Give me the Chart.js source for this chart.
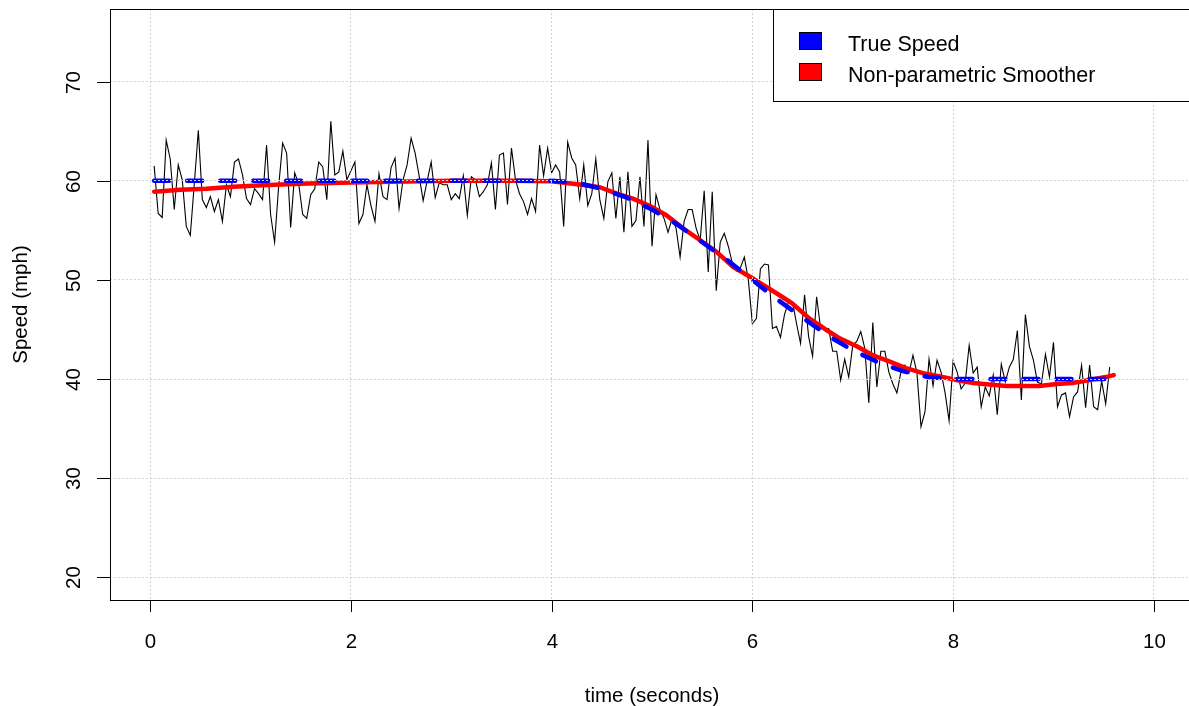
<!DOCTYPE html>
<html>
<head>
<meta charset="utf-8">
<title>Speed</title>
<script src="https://cdn.jsdelivr.net/npm/chart.js@4.4.0/dist/chart.umd.min.js"></script>
<style>
  html, body { margin: 0; padding: 0; background: #fff; overflow: hidden; }
  canvas { display: block; }
</style>
</head>
<body>
<canvas id="chartSpeed" width="1196" height="706"></canvas>
<script>
// measured speed, sampled every 0.04 s starting at 0.04 s
const SAMPLE_DT = 0.04;
const noiseSpeed = [
  61.5, 56.7, 56.3, 64.1, 62.2, 57.1, 61.6, 60.1, 55.4, 54.5,
  59.7, 65.1, 58.1, 57.3, 58.4, 56.9, 58.1, 55.9, 59.6, 58.4,
  61.9, 62.2, 60.6, 58.2, 57.6, 59.2, 58.7, 58.1, 63.6, 56.6,
  53.8, 59.4, 63.8, 62.8, 55.3, 60.8, 59.7, 56.6, 56.2, 58.6,
  59.2, 61.9, 61.4, 58.1, 66.0, 60.6, 60.9,
  63.0, 60.1, 61.0, 61.9, 55.7, 56.6, 59.6, 57.5, 55.9, 60.7,
  58.4, 58.1, 61.3, 62.3, 57.2, 60.1, 61.6, 64.3, 62.8, 60.5,
  58.0, 60.0, 61.9, 58.3, 59.8, 59.6, 59.6, 58.1, 58.7, 58.2,
  60.5, 56.5, 60.4, 60.1, 58.4, 58.9, 59.6, 61.8, 57.1, 62.6,
  62.8, 57.6, 63.3, 60.1, 58.7, 57.9, 56.6, 58.2, 56.9, 63.6,
  60.5, 63.3, 60.8, 61.6, 60.9, 55.4,
  63.9, 62.3, 61.6, 58.2, 61.6, 57.5, 58.7, 62.2, 58.1, 56.2,
  59.9, 60.8, 56.2, 60.4, 54.8, 60.9, 55.4, 56.0, 60.4, 55.4,
  64.1, 53.4, 58.6, 57.1, 56.2, 54.8, 56.2, 55.2, 52.3, 55.9,
  57.1, 57.1, 55.2, 54.0, 59.0, 50.8, 58.9, 48.9, 53.8, 54.7,
  53.4, 51.7, 50.9, 51.2, 52.3,
  50.0, 45.6, 46.1, 51.1, 51.6, 51.5, 45.1, 45.3, 44.2, 46.5,
  47.8, 47.8, 45.6, 43.6, 48.5, 44.3, 42.3, 48.3, 45.1, 45.0,
  45.1, 42.8, 42.8, 39.9, 42.0, 40.2, 43.4, 43.8, 44.8, 43.1,
  37.6, 45.7, 39.2, 42.8, 42.8, 40.7, 39.5, 38.6, 40.7, 41.4,
  40.6, 42.4, 40.6, 35.2, 36.7, 42.0, 39.3, 41.9, 40.7, 38.6,
  35.8, 41.8, 40.7, 39.0, 39.6, 43.4, 40.6,
  41.2, 37.2, 39.2, 38.3, 40.4, 36.4, 41.5, 39.7, 41.2, 42.0,
  44.9, 37.9, 46.5, 43.3, 41.9, 39.7, 39.5, 42.5, 40.2, 43.7,
  37.2, 38.4, 38.6, 36.2, 38.2, 38.7, 41.4, 37.1, 41.4, 37.2,
  36.9, 39.8, 37.5, 41.2
];

// true speed profile
const trueTime  = [0.04, 4.0, 4.25, 4.5, 4.75, 5.0, 5.25, 5.5, 5.75, 6.0, 6.25, 6.5, 6.75, 7.0, 7.25, 7.5, 7.75, 8.0, 9.6];
const trueSpeed = [60, 60, 59.8, 59.2, 58.3, 57.1, 55.6, 53.8, 52.0, 50.0, 48.0, 46.2, 44.4, 42.9, 41.7, 40.8, 40.2, 40.0, 40.0];

// smoother fit
const smoothTime  = [0.04, 0.3, 0.56, 0.83, 1.12, 1.49, 1.89, 2.4, 3.0, 3.6, 4.0, 4.3, 4.48, 4.65, 4.81, 4.98,
                     5.14, 5.31, 5.48, 5.64, 5.81, 5.98, 6.14, 6.31, 6.4, 6.57, 6.73, 6.87, 7.04, 7.2, 7.37,
                     7.53, 7.7, 7.87, 8.03, 8.2, 8.36, 8.53, 8.69, 8.86, 9.03, 9.19, 9.36, 9.52, 9.6];
const smoothSpeed = [58.9, 59.1, 59.2, 59.4, 59.55, 59.7, 59.8, 59.9, 60.0, 60.0, 59.95, 59.6, 59.35, 58.7, 58.2, 57.45,
                     56.55, 55.2, 54.0, 52.85, 51.3, 50.3, 49.3, 48.2, 47.6, 46.1, 45.0, 44.1, 43.3, 42.4, 41.75,
                     41.1, 40.6, 40.25, 39.9, 39.6, 39.45, 39.3, 39.3, 39.3, 39.5, 39.6, 39.9, 40.2, 40.4];

const xTicks = [0, 2, 4, 6, 8, 10];
const yTicks = [20, 30, 40, 50, 60, 70];

const FONT = '20.5px "Liberation Sans", Arial, sans-serif';
const LEGEND_FONT = '21.5px "Liberation Sans", Arial, sans-serif';

document.addEventListener("DOMContentLoaded", () => {
    initChart();
});

function pairs(xs, ys) {
    return ys.map((v, i) => ({ x: xs[i], y: v }));
}

/** box, tick marks, tick labels, axis titles and legend, drawn base-graphics style */
const baseAxes = {
    id: "baseAxes",
    afterDraw(chart) {
        const { ctx, chartArea: a, scales } = chart;
        const xs = scales.x, ys = scales.y;
        ctx.save();
        ctx.strokeStyle = "#000";
        ctx.lineWidth = 1;
        ctx.strokeRect(a.left + 0.5, a.top + 0.5, a.right - a.left, a.bottom - a.top);

        ctx.fillStyle = "#000";
        ctx.font = FONT;
        ctx.textAlign = "center";
        ctx.textBaseline = "alphabetic";

        xTicks.forEach(v => {
            const px = Math.round(xs.getPixelForValue(v)) + 0.5;
            ctx.beginPath();
            ctx.moveTo(px, a.bottom);
            ctx.lineTo(px, a.bottom + 12);
            ctx.stroke();
            ctx.fillText(String(v), px, a.bottom + 48);
        });

        yTicks.forEach(v => {
            const py = Math.round(ys.getPixelForValue(v)) + 0.5;
            ctx.beginPath();
            ctx.moveTo(a.left, py);
            ctx.lineTo(a.left - 13, py);
            ctx.stroke();
            ctx.save();
            ctx.translate(a.left - 30, py);
            ctx.rotate(-Math.PI / 2);
            ctx.fillText(String(v), 0, 0);
            ctx.restore();
        });

        // axis titles
        ctx.fillText("time (seconds)", (a.left + a.right) / 2, a.bottom + 102);
        ctx.save();
        ctx.translate(27, (a.top + a.bottom) / 2);
        ctx.rotate(-Math.PI / 2);
        ctx.fillText("Speed (mph)", 0, 0);
        ctx.restore();

        // legend, top right
        const lx = 773;
        ctx.fillStyle = "#fff";
        ctx.fillRect(lx + 0.5, a.top + 0.5, a.right - lx, 92);
        ctx.strokeRect(lx + 0.5, a.top + 0.5, a.right - lx, 92);
        ctx.textAlign = "left";
        ctx.font = LEGEND_FONT;
        chart.data.datasets.slice(0, 2).forEach((ds, i) => {
            const y0 = a.top + 23 + i * 30.5;
            ctx.fillStyle = ds.borderColor;
            ctx.fillRect(799.5, Math.round(y0) + 0.5, 22, 17);
            ctx.strokeRect(799.5, Math.round(y0) + 0.5, 22, 17);
            ctx.fillStyle = "#000";
            ctx.fillText(ds.label, 848, a.top + 42 + i * 31);
        });
        ctx.restore();
    }
};

function initChart() {
    const canvas = document.getElementById("chartSpeed");
    const noiseTime = noiseSpeed.map((_, i) => +((i + 1) * SAMPLE_DT).toFixed(2));

    new Chart(canvas, {
        type: "line",
        data: {
            datasets: [
                {
                    label: "True Speed",
                    data: pairs(trueTime, trueSpeed),
                    borderColor: "#0000ff",
                    borderWidth: 4.5,
                    borderDash: [15, 18],
                    borderCapStyle: "round",
                    pointRadius: 0,
                    tension: 0
                },
                {
                    label: "Non-parametric Smoother",
                    data: pairs(smoothTime, smoothSpeed),
                    borderColor: "#ff0000",
                    borderWidth: 4.5,
                    borderCapStyle: "round",
                    borderJoinStyle: "round",
                    pointRadius: 0,
                    tension: 0
                },
                {
                    label: "Observed",
                    data: pairs(noiseTime, noiseSpeed),
                    borderColor: "#000000",
                    borderWidth: 1.1,
                    pointRadius: 0,
                    tension: 0
                }
            ]
        },
        options: {
            responsive: false,
            animation: false,
            devicePixelRatio: 1,
            layout: { padding: { top: 9, right: 2, left: 0, bottom: 0 } },
            plugins: {
                legend: { display: false },
                tooltip: { enabled: false }
            },
            scales: {
                x: {
                    type: "linear",
                    min: -0.4,
                    max: 10.4,
                    afterBuildTicks: s => { s.ticks = xTicks.map(v => ({ value: v })); },
                    afterFit: s => { s.height = 106; },
                    ticks: { display: false },
                    grid: { color: "#d3d3d3", lineWidth: 1, drawTicks: false, z: 1 },
                    border: { display: false, dash: [2, 2] }
                },
                y: {
                    type: "linear",
                    min: 17.71,
                    max: 77.33,
                    afterBuildTicks: s => { s.ticks = yTicks.map(v => ({ value: v })); },
                    afterFit: s => { s.width = 110; },
                    ticks: { display: false },
                    grid: { color: "#d3d3d3", lineWidth: 1, drawTicks: false, z: 1 },
                    border: { display: false, dash: [2, 2] }
                }
            }
        },
        plugins: [baseAxes]
    });
}
</script>
</body>
</html>
